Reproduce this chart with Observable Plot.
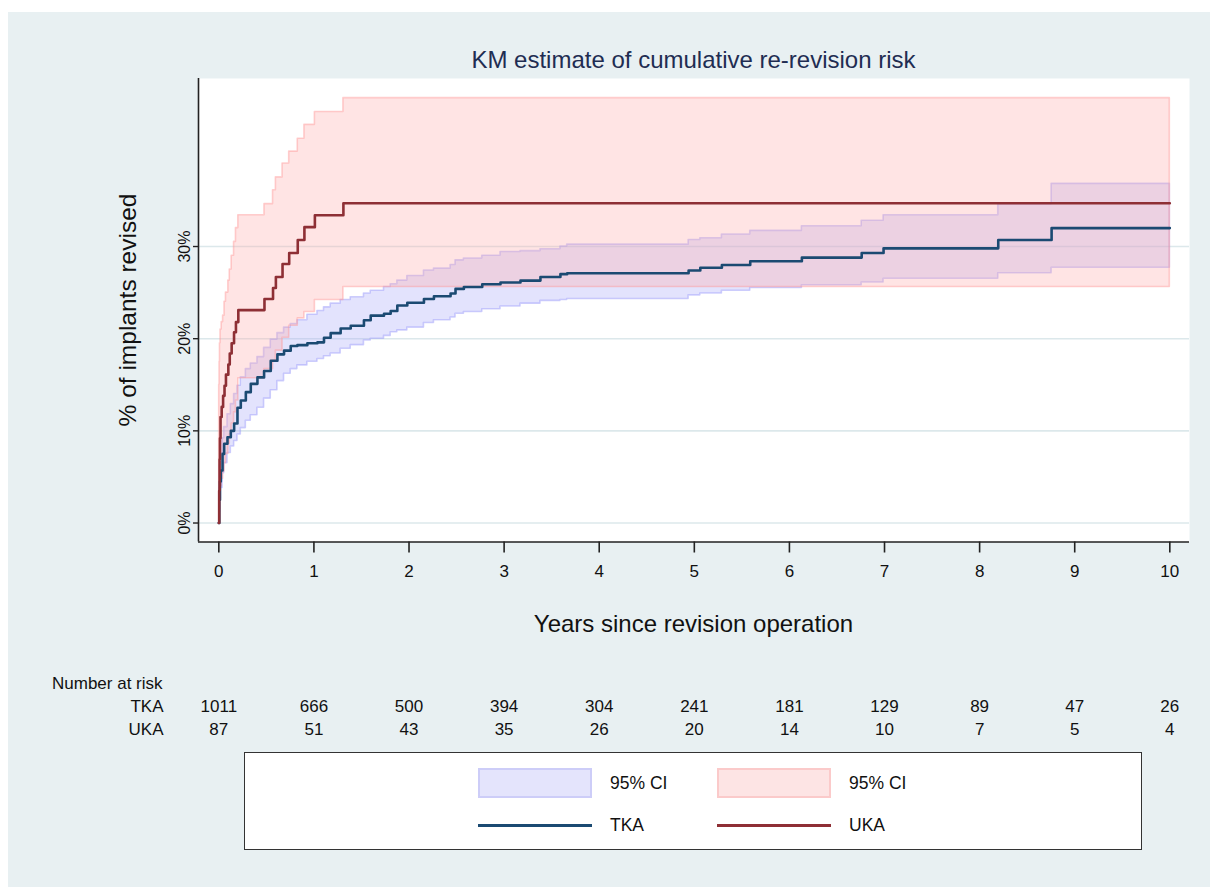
<!DOCTYPE html>
<html>
<head>
<meta charset="utf-8">
<script src="https://cdn.jsdelivr.net/npm/d3@7"></script>
<script src="https://cdn.jsdelivr.net/npm/@observablehq/plot@0.6"></script>
<style>
  html, body { margin: 0; padding: 0; background: #ffffff; }
  #page { position: relative; width: 1210px; height: 887px; overflow: hidden; font-family: "Liberation Sans", Arial, sans-serif; }
  #bg { position: absolute; left: 8px; top: 12px; right: 0; bottom: 0; background: #e8f0f2; }
  .abs { position: absolute; white-space: nowrap; }
  #title { left: 198px; width: 991px; top: 45px; text-align: center; font-size: 24px; color: #1f2d52; line-height: 30px; }
  #xtitle { left: 198px; width: 991px; top: 609px; text-align: center; font-size: 24px; color: #111; line-height: 30px; }
  #ytitle { left: 128px; top: 310px; transform: translate(-50%, -50%) rotate(-90deg); font-size: 24.5px; color: #111; line-height: 30px; }
  #risklabel { left: 52px; top: 674px; font-size: 17px; color: #111; line-height: 20px; }
  #legend { left: 244px; top: 752px; width: 896px; height: 96px; background: #fff; border: 1.6px solid #333; }
  .lbox { position: absolute; width: 110px; height: 26px; }
  .lline { position: absolute; width: 114px; height: 3px; }
  .ltext { position: absolute; font-size: 17.5px; color: #111; line-height: 20px; }
</style>
</head>
<body>
<div id="page">
  <div id="bg"></div>
  <div id="chart" class="abs" style="left:0;top:0;"></div>
  <div id="risk" class="abs" style="left:0;top:694px;"></div>
  <div id="title" class="abs">KM estimate of cumulative re-revision risk</div>
  <div id="xtitle" class="abs">Years since revision operation</div>
  <div id="ytitle" class="abs">% of implants revised</div>
  <div id="risklabel" class="abs">Number at risk</div>
  <div id="legend" class="abs"></div>
</div>
<script>
// ---------- Data ----------
// TKA Kaplan-Meier cumulative re-revision (%) with 95% CI
const tkaTime  = [0, 0.005, 0.012, 0.021, 0.039, 0.056, 0.091, 0.126, 0.161, 0.196, 0.231, 0.284, 0.336, 0.406, 0.476, 0.546, 0.616, 0.686, 0.756, 0.826, 0.931, 1.037, 1.106, 1.176, 1.281, 1.387, 1.526, 1.597, 1.737, 1.807, 1.877, 1.982, 2.157, 2.262, 2.437, 2.489, 2.577, 2.77, 2.962, 3.172, 3.382, 3.592, 3.663, 4.94, 5.063, 5.29, 5.588, 6.131, 6.76, 6.99, 8.196, 8.757, 10.0];
const tkaEst   = [0, 2.5, 4.5, 5.7, 7.5, 8.6, 9.3, 10.0, 10.8, 12.5, 13.3, 14.2, 15.1, 15.8, 16.5, 17.6, 18.3, 18.7, 19.2, 19.3, 19.5, 19.6, 20.1, 20.6, 21.1, 21.4, 22.0, 22.5, 22.7, 23.0, 23.6, 23.9, 24.3, 24.6, 24.9, 25.4, 25.6, 25.9, 26.1, 26.3, 26.7, 27.0, 27.1, 27.4, 27.7, 28.0, 28.4, 28.8, 29.3, 29.8, 30.7, 32.0, 32.0];
const tkaLower = [0, 1.2, 2.6, 3.8, 5.4, 6.5, 7.6, 8.3, 8.9, 9.6, 10.3, 11.1, 11.7, 12.5, 13.5, 14.4, 15.4, 16.2, 16.7, 17.1, 17.5, 17.8, 18.1, 18.4, 18.9, 19.3, 19.8, 20.0, 20.3, 20.7, 20.9, 21.2, 21.7, 22.0, 22.3, 22.7, 22.9, 23.2, 23.5, 23.8, 24.1, 24.2, 24.3, 24.7, 24.9, 25.2, 25.5, 25.8, 26.1, 26.5, 27.1, 27.7, 27.7];
const tkaUpper = [0, 3.8, 6.3, 7.6, 9.2, 10.4, 11.8, 12.9, 14.0, 14.9, 15.8, 16.7, 17.3, 18.0, 19.0, 19.9, 20.6, 21.2, 21.6, 22.0, 22.6, 23.0, 23.4, 23.8, 24.2, 24.5, 24.9, 25.2, 25.6, 25.9, 26.3, 26.8, 27.4, 27.6, 28.0, 28.5, 28.7, 29.0, 29.4, 29.5, 29.7, 30.0, 30.2, 30.7, 30.9, 31.3, 31.7, 32.2, 32.8, 33.4, 34.6, 36.8, 36.8];

// UKA Kaplan-Meier cumulative re-revision (%) with 95% CI
const ukaTime  = [0, 0.004, 0.008, 0.012, 0.018, 0.03, 0.045, 0.06, 0.075, 0.10, 0.115, 0.135, 0.16, 0.18, 0.205, 0.48, 0.57, 0.60, 0.67, 0.74, 0.83, 0.90, 1.01, 1.31, 10.0];
const ukaEst   = [0, 3.5, 6.9, 9.2, 11.5, 12.6, 13.8, 14.9, 16.1, 17.2, 18.4, 19.5, 20.7, 21.8, 23.1, 24.3, 25.5, 26.7, 28.1, 29.3, 30.7, 32.1, 33.4, 34.7, 34.7];
const ukaLower = [0, 0.5, 1.5, 2.8, 4.0, 4.8, 5.6, 6.5, 7.5, 8.6, 9.6, 10.8, 12.0, 13.3, 15.7, 16.7, 17.6, 18.7, 20.1, 21.4, 22.2, 22.9, 24.2, 25.6, 25.6];
const ukaUpper = [0, 15.0, 17.5, 19.5, 21.0, 21.8, 22.5, 24.0, 25.0, 26.3, 27.5, 29.0, 30.5, 32.0, 33.4, 34.6, 36.1, 37.5, 39.0, 40.3, 41.7, 43.2, 44.6, 46.1, 46.1];

// Axis ticks
const xTicks = [0, 1, 2, 3, 4, 5, 6, 7, 8, 9, 10];
const yTicks = [0, 10, 20, 30];

// Number at risk
const riskYears = [0, 1, 2, 3, 4, 5, 6, 7, 8, 9, 10];
const riskTKA = [1011, 666, 500, 394, 304, 241, 181, 129, 89, 47, 26];
const riskUKA = [87, 51, 43, 35, 26, 20, 14, 10, 7, 5, 4];

// Legend entries
const legendEntries = [
  {kind: "box", label: "95% CI", fill: "#e4e4fc", stroke: "#cdcdf8", x: 477, y: 767},
  {kind: "box", label: "95% CI", fill: "#fde4e4", stroke: "#fbcaca", x: 716, y: 767},
  {kind: "line", label: "TKA", color: "#1b4a72", x: 477, y: 824},
  {kind: "line", label: "UKA", color: "#8e2f35", x: 716, y: 824}
];

// ---------- Build tables ----------
const tka = tkaTime.map((t, i) => ({t, est: tkaEst[i], lo: tkaLower[i], hi: tkaUpper[i]}));
const uka = ukaTime.map((t, i) => ({t, est: ukaEst[i], lo: ukaLower[i], hi: ukaUpper[i]}));

const xDomain = [-0.2137, 10.207];
const yDomain = [-2.06, 48.23];
const font = "'Liberation Sans', Arial, sans-serif";

const chart = Plot.plot({
  width: 1210,
  height: 660,
  marginLeft: 198,
  marginRight: 21,
  marginTop: 78,
  marginBottom: 118.5,
  x: {domain: xDomain},
  y: {domain: yDomain},
  style: {background: "transparent", fontFamily: font, color: "#111"},
  marks: [
    Plot.frame({fill: "white", stroke: null}),
    Plot.gridY(yTicks, {stroke: "#dce8eb", strokeOpacity: 1, strokeWidth: 1.6}),
    Plot.areaY(tka, {x: "t", y1: "lo", y2: "hi", curve: "step-after", fill: "rgb(170,170,250)", fillOpacity: 0.33, stroke: "rgb(150,150,250)", strokeOpacity: 0.45, strokeWidth: 1.6}),
    Plot.areaY(uka, {x: "t", y1: "lo", y2: "hi", curve: "step-after", fill: "rgb(255,170,170)", fillOpacity: 0.32, stroke: "rgb(255,150,150)", strokeOpacity: 0.45, strokeWidth: 1.6}),
    Plot.lineY(tka, {x: "t", y: "est", curve: "step-after", stroke: "#1b4a72", strokeWidth: 2.6}),
    Plot.lineY(uka, {x: "t", y: "est", curve: "step-after", stroke: "#8e2f35", strokeWidth: 2.6}),
    Plot.ruleX([xDomain[0]], {stroke: "#222", strokeWidth: 1.6}),
    Plot.ruleY([yDomain[0]], {stroke: "#222", strokeWidth: 1.6}),
    Plot.axisX(xTicks, {tickSize: 11, tickPadding: 12, fontSize: 17, label: null, stroke: "#222", strokeWidth: 1.6}),
    Plot.axisY(yTicks, {tickFormat: d => d + "%", tickRotate: -90, tickSize: 5, tickPadding: 4, fontSize: 16, label: null, stroke: "#222", strokeWidth: 1.4})
  ]
});
document.getElementById("chart").appendChild(chart);

// Number-at-risk table using the same x scale
const riskRows = [];
riskYears.forEach((t, i) => {
  riskRows.push({t, group: "TKA", n: riskTKA[i]});
  riskRows.push({t, group: "UKA", n: riskUKA[i]});
});
const risk = Plot.plot({
  width: 1210,
  height: 46,
  marginLeft: 198,
  marginRight: 21,
  marginTop: 0,
  marginBottom: 0,
  x: {domain: xDomain, axis: null},
  y: {type: "point", domain: ["TKA", "UKA"], padding: 0.5},
  style: {background: "transparent", fontFamily: font, color: "#111"},
  marks: [
    Plot.text(riskRows, {x: "t", y: "group", text: d => String(d.n), fontSize: 17, fill: "#111"}),
    Plot.axisY({tickSize: 0, tickPadding: 35, fontSize: 17, label: null})
  ]
});
document.getElementById("risk").appendChild(risk);

// Legend
const legend = document.getElementById("legend");
const L = 244, T = 752;
legendEntries.forEach(e => {
  if (e.kind === "box") {
    const b = document.createElement("div");
    b.className = "lbox";
    b.style.left = (e.x - L) + "px";
    b.style.top = (e.y - T) + "px";
    b.style.background = e.fill;
    b.style.border = "2px solid " + e.stroke;
    legend.appendChild(b);
    const tx = document.createElement("div");
    tx.className = "ltext";
    tx.textContent = e.label;
    tx.style.left = (e.x + 132 - L) + "px";
    tx.style.top = (e.y + 15 - 10 - T) + "px";
    legend.appendChild(tx);
  } else {
    const ln = document.createElement("div");
    ln.className = "lline";
    ln.style.left = (e.x - L) + "px";
    ln.style.top = (e.y - 1.5 - T) + "px";
    ln.style.background = e.color;
    legend.appendChild(ln);
    const tx = document.createElement("div");
    tx.className = "ltext";
    tx.textContent = e.label;
    tx.style.left = (e.x + 132 - L) + "px";
    tx.style.top = (e.y - 10 - T) + "px";
    legend.appendChild(tx);
  }
});
</script>
</body>
</html>
